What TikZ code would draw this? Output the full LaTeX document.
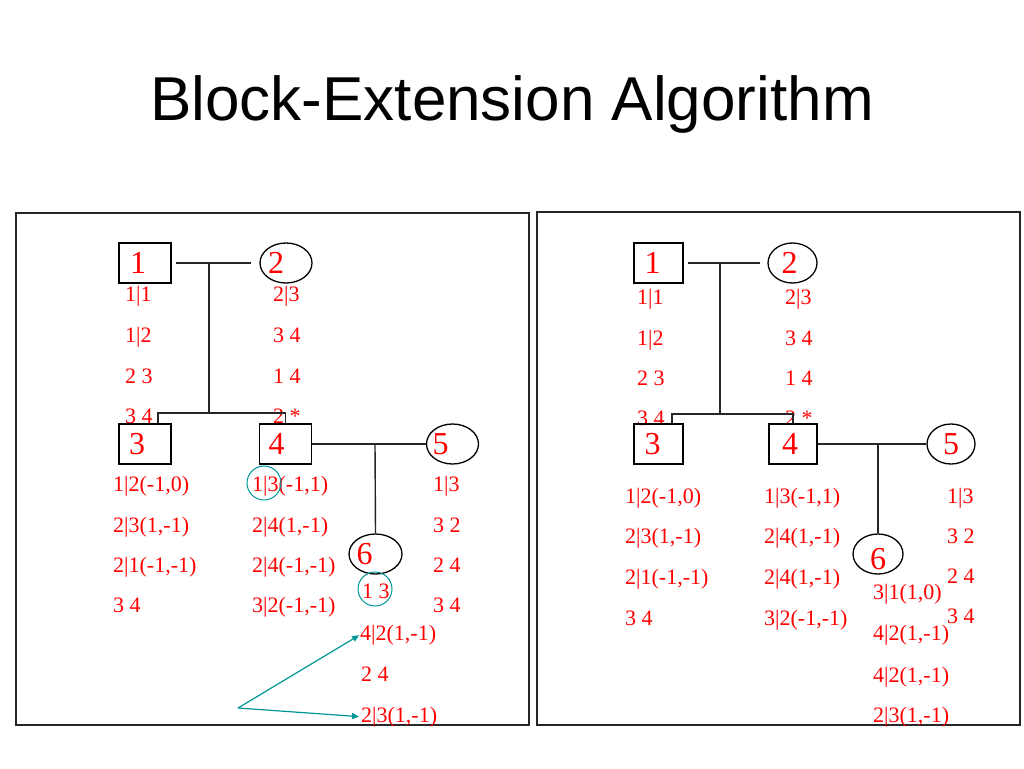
\documentclass[tikz,border=0pt]{standalone}
\usepackage{fontspec}
\setmainfont{Liberation Serif}
\newfontfamily\titlefont{Liberation Sans}
\usetikzlibrary{shapes.geometric,arrows.meta,calc}
\definecolor{tealc}{RGB}{0,150,150}
\begin{document}
\begin{tikzpicture}[x=1pt,y=-1pt,
 line/.style={line width=1.4pt, black!85},
 frame/.style={draw, line width=1.4pt, black!85, inner sep=0pt},
 pbox/.style={draw, line width=1.3pt, minimum width=52pt, minimum height=40pt, inner sep=0pt},
 pell/.style={draw, ellipse, line width=1.3pt, minimum width=52pt, minimum height=40pt, inner sep=0pt},
 rbox/.style={pbox, minimum width=49pt},
 rell/.style={pell, minimum width=49pt},
 num/.style={text=red, font=\fontsize{32}{32}\selectfont, inner sep=0pt},
 txt/.style={text=red, font=\fontsize{22}{22}\selectfont, anchor=base west, inner sep=0pt},
 hl/.style={draw=tealc, line width=1pt, circle, minimum size=34pt, inner sep=0pt},
 arr/.style={draw=tealc, line width=1.2pt, -{Triangle[length=7pt,width=6pt]}}
]
\fill[white] (0,0) rectangle (1024,768);
\useasboundingbox (0,0) rectangle (1024,768);

\node[font=\titlefont\fontsize{62}{62}\selectfont, anchor=base, inner sep=0pt] (title) at (512,120) {Block-Extension Algorithm};

% panels
\node[frame, minimum width=513pt, minimum height=512pt] (P1) at (272.5,469) {};
\node[frame, minimum width=483pt, minimum height=513pt] (P2) at (778.5,468.5) {};

% ---------- left panel texts ----------
\node[txt] (a11) at (125,301) {1|1};
\node[txt] (a12) at (125,342) {1|2};
\node[txt] (a13) at (125,383) {2 3};
\node[txt] (a14) at (125,423) {3 4};
\node[txt] (a21) at (273,301) {2|3};
\node[txt] (a22) at (273,342) {3 4};
\node[txt] (a23) at (273,383) {1 4};
\node[txt] (a24) at (273,423) {2 *};
\node[txt] (a31) at (113,491) {1|2(-1,0)};
\node[txt] (a32) at (113,532) {2|3(1,-1)};
\node[txt] (a33) at (113,572) {2|1(-1,-1)};
\node[txt] (a34) at (113,612) {3 4};
\node[txt] (a41) at (252,491) {1|3(-1,1)};
\node[txt] (a42) at (252,532) {2|4(1,-1)};
\node[txt] (a43) at (252,572) {2|4(-1,-1)};
\node[txt] (a44) at (252,612) {3|2(-1,-1)};
\node[txt] (a51) at (433,491) {1|3};
\node[txt] (a52) at (433,532) {3 2};
\node[txt] (a53) at (433,572) {2 4};
\node[txt] (a54) at (433,612) {3 4};
\node[txt] (a61) at (362,598) {1 3};
\node[txt] (a62) at (360,640) {4|2(1,-1)};
\node[txt] (a63) at (361,681) {2 4};
\node[txt] (a64) at (361,722) {2|3(1,-1)};

% left shapes
\node[pbox] (B1) at (145,263) {};
\node[pell] (E2) at (286,263) {};
\node[pbox] (B3) at (145,444) {};
\node[pbox] (B4) at (285.5,444) {};
\node[pell] (E5) at (452.5,444) {};
\node[pell, minimum width=53pt] (E6) at (375.5,554) {};
\node[num, xshift=-7pt] (n1) at (B1) {1};
\node[num, xshift=-10pt] (n2) at (E2) {2};
\node[num, xshift=-8pt] (n3) at (B3) {3};
\node[num, xshift=-9pt] (n4) at (B4) {4};
\node[num, xshift=-12pt] (n5) at (E5) {5};
\node[num, xshift=-11pt] (n6) at (E6) {6};

% left connectors
\coordinate (J1) at (209,263);
\coordinate (J2) at (209,413);
\coordinate (J3) at (375,444);
\draw[line, shorten <=4pt, shorten >=8pt] (B1.east) -- (E2.west);
\draw[line] (J1) -- (J2);
\draw[line] ($(B3.north)+(13,0)$) |- (J2) -| (B4.north);
\draw[line] (B4.east) -- (E5.west);
\draw[line] (J3) -- (E6.north);

% highlights and arrows
\node[hl] (h1) at (264,483) {};
\node[hl] (h2) at (375,589) {};
\coordinate (A0) at (238,708);
\draw[arr, shorten >=1pt] (A0) -- (a62.west);
\draw[arr, shorten >=2pt] (A0) -- (a64.west);

% ---------- right panel texts ----------
\node[txt] (b11) at (637,304) {1|1};
\node[txt] (b12) at (637,345) {1|2};
\node[txt] (b13) at (637,385) {2 3};
\node[txt] (b14) at (637,425) {3 4};
\node[txt] (b21) at (785,304) {2|3};
\node[txt] (b22) at (785,345) {3 4};
\node[txt] (b23) at (785,385) {1 4};
\node[txt] (b24) at (785,425) {2 *};
\node[txt] (b31) at (625,503) {1|2(-1,0)};
\node[txt] (b32) at (625,543) {2|3(1,-1)};
\node[txt] (b33) at (625,584) {2|1(-1,-1)};
\node[txt] (b34) at (625,625) {3 4};
\node[txt] (b41) at (764,503) {1|3(-1,1)};
\node[txt] (b42) at (764,543) {2|4(1,-1)};
\node[txt] (b43) at (764,584) {2|4(1,-1)};
\node[txt] (b44) at (764,625) {3|2(-1,-1)};
\node[txt] (b51) at (947,503) {1|3};
\node[txt] (b52) at (947,543) {3 2};
\node[txt] (b53) at (947,583) {2 4};
\node[txt] (b54) at (947,623) {3 4};
\node[txt] (b61) at (873,599) {3|1(1,0)};
\node[txt] (b62) at (873,640) {4|2(1,-1)};
\node[txt] (b63) at (873,682) {4|2(1,-1)};
\node[txt] (b64) at (873,722) {2|3(1,-1)};

% right shapes
\node[rbox] (R1) at (658.5,263) {};
\node[rell] (R2) at (792.5,263) {};
\node[rbox] (R3) at (658.5,444) {};
\node[rbox, minimum width=48pt] (R4) at (793,444) {};
\node[rell, minimum width=48pt] (R5) at (951,444) {};
\node[rell, minimum width=50pt] (R6) at (878,554) {};
\node[num, xshift=-6pt] (m1) at (R1) {1};
\node[num, xshift=-3pt] (m2) at (R2) {2};
\node[num, xshift=-6pt] (m3) at (R3) {3};
\node[num, xshift=-3pt] (m4) at (R4) {4};
\node[num] (m5) at (R5) {5};
\node[num, yshift=-5pt] (m6) at (R6) {6};

% right connectors
\coordinate (K1) at (720,263);
\coordinate (K2) at (720,414);
\coordinate (K3) at (878,444);
\draw[line, shorten <=4pt, shorten >=7pt] (R1.east) -- (R2.west);
\draw[line] (K1) -- (K2);
\draw[line] ($(R3.north)+(13.5,0)$) |- (K2) -| (R4.north);
\draw[line] (R4.east) -- (R5.west);
\draw[line] (K3) -- (R6.north);
\end{tikzpicture}
\end{document}
